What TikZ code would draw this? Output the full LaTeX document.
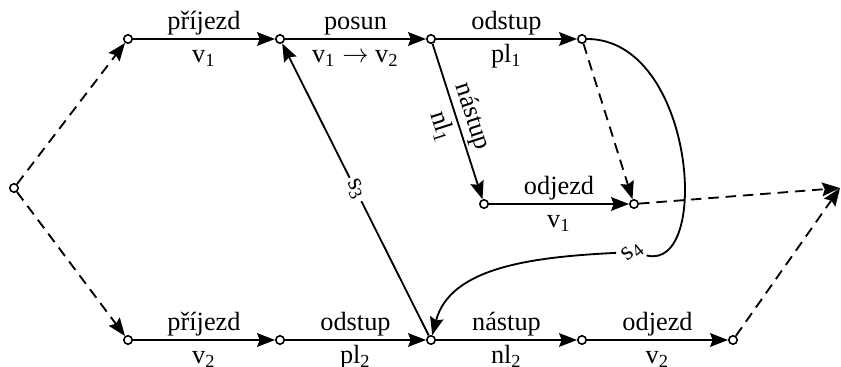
\documentclass[tikz,border=0pt]{standalone}
\usepackage{fontspec}
\setmainfont{Liberation Serif}
\usetikzlibrary{arrows.meta}
\tikzset{
  vtx/.style={draw, circle, fill=white, inner sep=0pt, minimum size=3.2pt, line width=0.6pt},
  arr/.style={-{Stealth[length=6.8pt,width=5.2pt,inset=1pt]}, line width=0.7pt},
  darr/.style={arr, dash pattern=on 4pt off 2.6pt},
  lbl/.style={inner sep=1.2pt, text height=7.5pt, text depth=2pt},
  cut/.style={inner sep=1pt, fill=white}
}

\begin{document}
\begin{tikzpicture}[x=0.38pt, y=0.38pt]
\useasboundingbox (0,0) rectangle (841,367);
% vertices
\node[vtx] (s) at (14,179) {};
\node[vtx] (a1) at (128,328) {};
\node[vtx] (a2) at (280,328) {};
\node[vtx] (a3) at (431,328) {};
\node[vtx] (a4) at (582,328) {};
\node[vtx] (m1) at (484,163) {};
\node[vtx] (m2) at (634,163) {};
\node[vtx] (b1) at (128,27) {};
\node[vtx] (b2) at (280,27) {};
\node[vtx] (b3) at (431,27) {};
\node[vtx] (b4) at (582,27) {};
\node[vtx] (b5) at (733,27) {};
\coordinate (e) at (840,179);
% first train
\draw[darr] (s) -- (a1);
\draw[arr] (a1) -- node[lbl,above]{příjezd} node[lbl,below]{v\textsubscript{1}} (a2);
\draw[arr] (a2) -- node[lbl,above]{posun} node[lbl,below]{v\textsubscript{1} $\rightarrow$ v\textsubscript{2}} (a3);
\draw[arr] (a3) -- node[lbl,above]{odstup} node[lbl,below]{pl\textsubscript{1}} (a4);
\draw[arr] (a3) -- node[lbl,above,sloped]{nástup} node[lbl,below,sloped]{nl\textsubscript{1}} (m1);
\draw[arr] (m1) -- node[lbl,above]{odjezd} node[lbl,below]{v\textsubscript{1}} (m2);
\draw[darr] (a4) -- (m2);
\draw[darr] (m2) -- (e);
% second train
\draw[darr] (s) -- (b1);
\draw[arr] (b1) -- node[lbl,above]{příjezd} node[lbl,below]{v\textsubscript{2}} (b2);
\draw[arr] (b2) -- node[lbl,above]{odstup} node[lbl,below]{pl\textsubscript{2}} (b3);
\draw[arr] (b3) -- node[lbl,above]{nástup} node[lbl,below]{nl\textsubscript{2}} (b4);
\draw[arr] (b4) -- node[lbl,above]{odjezd} node[lbl,below]{v\textsubscript{2}} (b5);
\draw[darr] (b5) -- (e);
% links
\draw[arr] (b3) -- node[cut,sloped]{s\textsubscript{3}} (a2);
\node[inner sep=1pt, rotate=40] (s4) at (633,115) {s\textsubscript{4}};
\draw[line width=0.7pt] (a4) .. controls +(113,0) and +(79,-20) .. (s4);
\draw[arr] (s4) .. controls +(-100,-5) and +(19,73) .. (b3);
\end{tikzpicture}
\end{document}
